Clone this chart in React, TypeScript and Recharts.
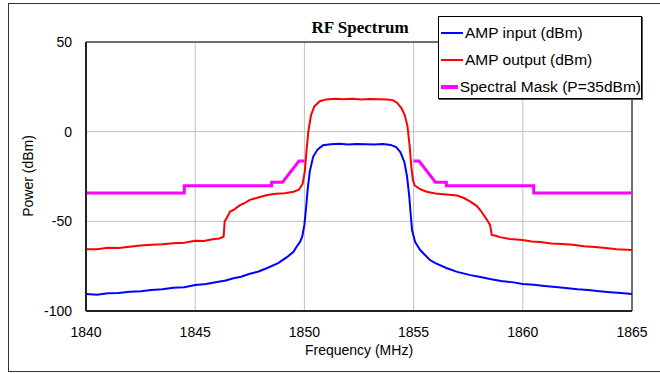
import React from "react";
import {
  LineChart,
  Line,
  XAxis,
  YAxis,
  CartesianGrid,
  ReferenceLine,
} from "recharts";

// AMP input (dBm)
const inputFreq = [
  1840, 1840.5, 1841, 1841.5, 1842, 1842.5, 1843, 1843.5, 1844, 1844.5, 1845,
  1845.5, 1846, 1846.4, 1846.75, 1847.1, 1847.5, 1847.9, 1848.3, 1848.8, 1849.2,
  1849.5, 1849.65, 1849.8, 1849.9, 1850, 1850.08, 1850.15, 1850.25, 1850.4,
  1850.6, 1850.85, 1851.2, 1851.6, 1852, 1852.4, 1852.8, 1853.2, 1853.6,
  1853.95, 1854.2, 1854.4, 1854.58, 1854.7, 1854.8, 1854.88, 1854.93, 1855.07,
  1855.3, 1855.5, 1855.75, 1856, 1856.5, 1857, 1857.6, 1858, 1858.5, 1859,
  1859.5, 1860, 1860.5, 1861, 1861.5, 1861.85, 1862.5, 1863, 1863.4, 1864,
  1864.5, 1865,
];
const inputPower = [
  -90.5, -90.9, -90.1, -89.9, -89.2, -89.0, -88.3, -87.9, -87.0, -86.8, -85.5,
  -85.0, -83.8, -83.0, -81.7, -80.9, -79.2, -78.0, -76.0, -73.3, -70.0, -67.0,
  -64.0, -61.5, -58.6, -52.0, -42.0, -32.0, -22.0, -14.0, -10.0, -7.6, -7.0,
  -6.8, -7.1, -6.9, -7.0, -7.1, -6.9, -7.4, -8.6, -11.5, -17.0, -25.0, -36.0,
  -48.0, -55.0, -61.5, -66.0, -68.5, -71.6, -73.3, -76.0, -78.2, -80.0, -80.9,
  -82.2, -83.3, -83.9, -85.0, -85.3, -86.0, -86.6, -87.0, -87.9, -88.3, -88.9,
  -89.5, -89.9, -90.5,
];

// AMP output (dBm)
const outputFreq = [
  1840, 1840.5, 1841, 1841.5, 1842, 1842.5, 1843, 1843.5, 1844, 1844.5, 1845,
  1845.4, 1845.8, 1846.1, 1846.3, 1846.35, 1846.45, 1846.6, 1846.75, 1847.05,
  1847.2, 1847.5, 1847.8, 1848.3, 1848.7, 1849.1, 1849.5, 1849.75, 1849.92,
  1850.02, 1850.1, 1850.18, 1850.3, 1850.45, 1850.7, 1851, 1851.4, 1851.8,
  1852.2, 1852.6, 1853, 1853.4, 1853.8, 1854.05, 1854.25, 1854.45, 1854.6,
  1854.72, 1854.82, 1854.9, 1854.97, 1855.05, 1855.3, 1855.6, 1856, 1856.5,
  1857, 1857.3, 1857.6, 1857.9, 1858.05, 1858.35, 1858.5, 1858.58, 1858.8,
  1858.95, 1859.4, 1860, 1860.4, 1860.8, 1861.3, 1861.8, 1862.3, 1862.8, 1863.3,
  1863.8, 1864.3, 1865,
];
const outputPower = [
  -65.5, -65.6, -64.8, -64.9, -64.2, -63.5, -63.1, -62.8, -62.2, -61.9, -60.8,
  -60.9, -60.0, -59.6, -58.6, -50.0, -48.0, -44.5, -43.7, -41.0, -40.2, -38.0,
  -37.0, -35.3, -34.6, -34.3, -33.5, -32.4, -29.0, -22.0, -10.0, 0.0, 9.0, 14.0,
  17.0, 18.0, 18.3, 18.1, 18.3, 18.0, 18.2, 18.1, 18.0, 17.6, 16.0, 13.0, 9.0,
  3.0, -8.0, -20.0, -27.0, -30.0, -32.0, -33.5, -34.5, -35.0, -35.6, -37.0, -39.0,
  -41.5, -43.7, -49.0, -52.0, -57.6, -58.2, -58.8, -59.8, -60.4, -61.2, -61.5,
  -62.3, -62.7, -63.0, -63.9, -64.3, -64.9, -65.5, -66.0,
];

// Spectral Mask (P=35dBm), null = gap in the mask
const maskFreq = [
  1840, 1844.5, 1844.5, 1848.5, 1848.5, 1849, 1849.75, 1850, 1852.5, 1855,
  1855.25, 1856, 1856.5, 1856.5, 1860.5, 1860.5, 1865,
];
const maskPower: (number | null)[] = [
  -34.2, -34.2, -30.2, -30.2, -28.2, -28.2, -16.4, -16.4, null, -16.4, -16.4,
  -28.2, -28.2, -30.2, -30.2, -34.2, -34.2,
];

const xTicks = [1840, 1845, 1850, 1855, 1860, 1865];
const yTicks = [-100, -50, 0, 50];

const toRows = (f: number[], p: (number | null)[]) =>
  f.map((x, i) => ({ x, y: p[i] }));

const series = [
  { name: "AMP input (dBm)", color: "#0000ff", width: 2, rows: toRows(inputFreq, inputPower) },
  { name: "AMP output (dBm)", color: "#ff0000", width: 2, rows: toRows(outputFreq, outputPower) },
  { name: "Spectral Mask (P=35dBm)", color: "#ff00ff", width: 3, rows: toRows(maskFreq, maskPower) },
];

const sans = '"Liberation Sans", Arial, sans-serif';

export default function App() {
  return (
    <div
      style={{
        position: "absolute",
        left: 0,
        top: 0,
        width: 660,
        height: 374,
        overflow: "hidden",
        background: "#fff",
        fontFamily: sans,
      }}
    >
      {/* outer frame, right side runs off the picture */}
      <div
        style={{
          position: "absolute",
          left: 8,
          top: 3,
          width: 700,
          height: 369,
          boxSizing: "border-box",
          border: "1px solid #333",
        }}
      />

      <LineChart
        width={660}
        height={374}
        margin={{ top: 42, right: 28, bottom: 33, left: 26 }}
        style={{ position: "absolute", left: 0, top: 0 }}
      >
        <CartesianGrid stroke="#c0c0c0" strokeWidth={1} />
        <XAxis
          dataKey="x"
          type="number"
          domain={[1840, 1865]}
          ticks={xTicks}
          allowDataOverflow
          height={30}
          tickLine={false}
          tickSize={0}
          tickMargin={16}
          axisLine={{ stroke: "#222", strokeWidth: 2 }}
          tick={{ fill: "#000", fontSize: 14, fontFamily: sans }}
        />
        <YAxis
          type="number"
          domain={[-100, 50]}
          ticks={yTicks}
          allowDataOverflow
          width={60}
          tickLine={false}
          tickSize={0}
          tickMargin={14}
          axisLine={{ stroke: "#222", strokeWidth: 2 }}
          tick={{ fill: "#000", fontSize: 14, fontFamily: sans }}
        />
        <ReferenceLine y={50} stroke="#000" strokeWidth={1} />
        <ReferenceLine x={1865} stroke="#000" strokeWidth={1} />
        {series.map((s) => (
          <Line
            key={s.name}
            data={s.rows}
            dataKey="y"
            name={s.name}
            type="linear"
            stroke={s.color}
            strokeWidth={s.width}
            dot={false}
            activeDot={false}
            connectNulls={false}
            isAnimationActive={false}
          />
        ))}
      </LineChart>

      {/* title */}
      <div
        style={{
          position: "absolute",
          left: 0,
          width: 720,
          top: 19,
          textAlign: "center",
          fontFamily: '"Liberation Serif", "Times New Roman", serif',
          fontWeight: 700,
          fontSize: 17,
          lineHeight: "17px",
        }}
      >
        RF Spectrum
      </div>

      {/* axis titles */}
      <div
        style={{
          position: "absolute",
          left: 0,
          width: 718,
          top: 342,
          textAlign: "center",
          fontSize: 14,
          lineHeight: "16px",
        }}
      >
        Frequency (MHz)
      </div>
      <div
        style={{
          position: "absolute",
          left: 27.5 - 60,
          top: 176 - 8,
          width: 120,
          height: 16,
          lineHeight: "16px",
          fontSize: 14,
          textAlign: "center",
          transform: "rotate(-90deg)",
        }}
      >
        Power (dBm)
      </div>

      {/* legend */}
      <div
        style={{
          position: "absolute",
          left: 438,
          top: 16,
          width: 204,
          height: 83,
          boxSizing: "border-box",
          border: "1px solid #000",
          boxShadow: "1px 1px 0 #555",
          background: "#fff",
          paddingTop: 2,
        }}
      >
        {series.map((s) => (
          <div
            key={s.name}
            style={{
              display: "flex",
              alignItems: "center",
              height: 27,
              whiteSpace: "nowrap",
            }}
          >
            <div
              style={{
                marginLeft: 2,
                width: 22,
                height: s.width === 3 ? 4 : 2,
                background: s.color,
              }}
            />
            <span style={{ marginLeft: 2, fontSize: 15.5, color: "#000" }}>{s.name}</span>
          </div>
        ))}
      </div>
    </div>
  );
}
